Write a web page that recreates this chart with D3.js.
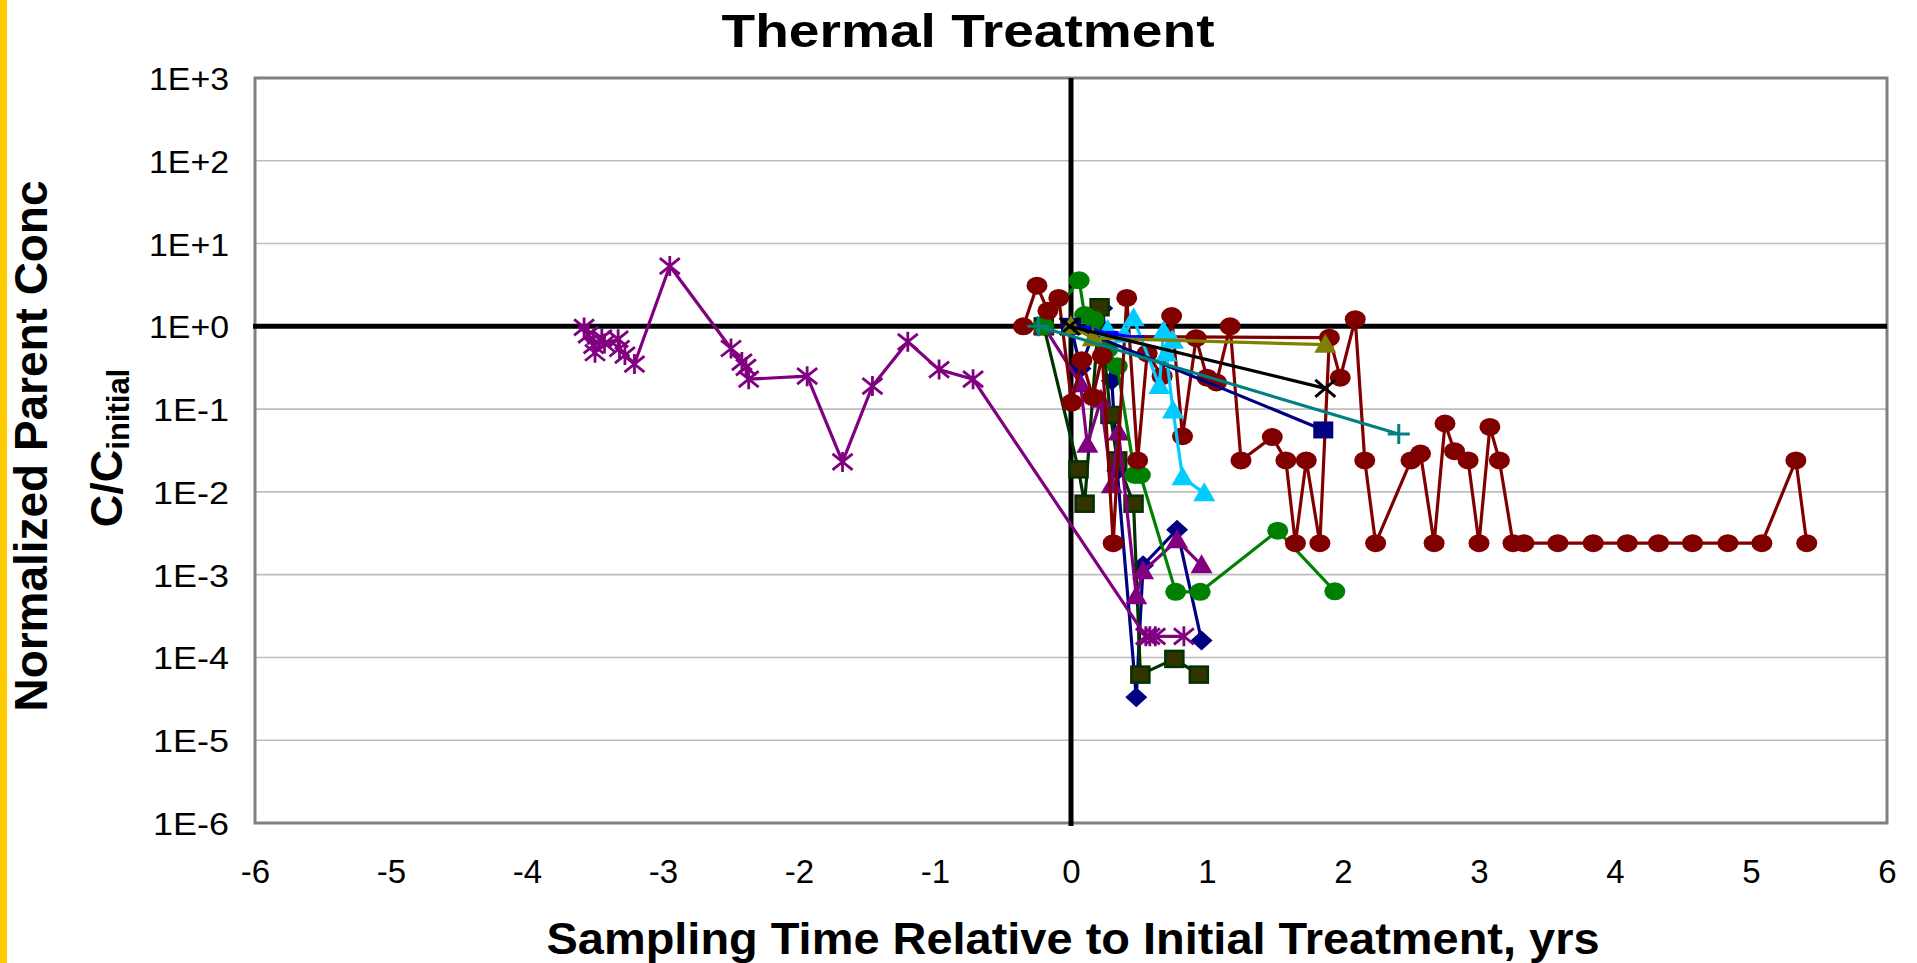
<!DOCTYPE html>
<html><head><meta charset="utf-8">
<script src="https://cdn.jsdelivr.net/npm/d3@7"></script>
<style>html,body{margin:0;padding:0;background:#fff;overflow:hidden}svg{display:block}</style>
</head><body>
<script>
// ---- DATA ----
const yTickValues = [1e-6,1e-5,1e-4,1e-3,1e-2,1e-1,1,10,100,1000];
const yTickLabels = ["1E-6","1E-5","1E-4","1E-3","1E-2","1E-1","1E+0","1E+1","1E+2","1E+3"];
const xTickValues = [-6,-5,-4,-3,-2,-1,0,1,2,3,4,5,6];

const purpleAsterisk = [[-3.58,0.97],[-3.55,0.79],[-3.51,0.59],[-3.50,0.48],[-3.45,0.72],[-3.43,0.62],[-3.33,0.70],[-3.32,0.54],[-3.28,0.45],[-3.21,0.35],[-2.95,5.35],[-2.50,0.54],[-2.42,0.37],[-2.39,0.32],[-2.37,0.23],[-1.94,0.25],[-1.68,0.023],[-1.46,0.19],[-1.20,0.65],[-0.97,0.30],[-0.72,0.23],[0.55,1.8e-4],[0.58,1.8e-4],[0.62,1.8e-4],[0.83,1.8e-4]];
const maroonCircle = [[-0.35,1.0],[-0.25,3.1],[-0.17,1.54],[-0.09,2.2],[0.005,0.12],[0.08,0.39],[0.16,0.14],[0.23,0.44],[0.31,0.0024],[0.41,2.2],[0.49,0.024],[0.56,0.47],[0.67,0.25],[0.74,1.33],[0.82,0.047],[0.92,0.72],[1.0,0.24],[1.07,0.21],[1.17,1.0],[1.25,0.024],[1.48,0.046],[1.58,0.024],[1.65,0.0024],[1.73,0.024],[1.83,0.0024],[1.90,0.73],[1.98,0.24],[2.09,1.22],[2.16,0.024],[2.24,0.0024],[2.50,0.024],[2.57,0.029],[2.67,0.0024],[2.75,0.067],[2.82,0.031],[2.92,0.024],[3.00,0.0024],[3.08,0.061],[3.15,0.024],[3.25,0.0024],[3.33,0.0024],[3.58,0.0024],[3.84,0.0024],[4.09,0.0024],[4.32,0.0024],[4.57,0.0024],[4.83,0.0024],[5.08,0.0024],[5.33,0.024],[5.41,0.0024]];
const maroonFlat = [[0.48,0.75],[1.90,0.73]];
const greenCircle = [[-0.2,1.0],[0.06,3.6],[0.10,1.37],[0.17,1.2],[0.27,0.53],[0.34,0.33],[0.47,0.016],[0.51,0.016],[0.77,6.2e-4],[0.95,6.2e-4],[1.52,0.0034],[1.94,6.3e-4]];
const darkSquare = [[-0.2,1.0],[0.055,0.0187],[0.10,0.0072],[0.21,1.7],[0.29,0.085],[0.34,0.024],[0.46,0.0072],[0.51,6.2e-5],[0.76,9.6e-5],[0.94,6.2e-5]];
const navyDiamond = [[0.0,1.0],[0.07,0.31],[0.23,1.65],[0.30,0.22],[0.34,0.018],[0.48,3.3e-5],[0.53,0.0013],[0.78,0.0035],[0.96,1.6e-4]];
const purpleTriangle = [[-0.2,1.0],[0.07,0.2],[0.12,0.037],[0.22,0.13],[0.30,0.012],[0.35,0.052],[0.48,5.5e-4],[0.53,0.0011],[0.78,0.0026],[0.96,0.0013]];
const cyanTriangle = [[0.27,0.9],[0.39,0.79],[0.46,1.25],[0.65,0.19],[0.68,0.87],[0.75,0.67],[0.70,0.47],[0.75,0.096],[0.82,0.015],[0.98,0.0096]];
const blueDash = [[0.0,1.0],[0.09,0.95],[0.29,0.82],[0.48,0.73]];
const navySquare = [[0.0,1.0],[1.855,0.056]];
const blackCross = [[-0.01,1.0],[1.87,0.178]];
const oliveTriangle = [[0.0,1.0],[0.16,0.72],[1.87,0.6]];
const tealPlus = [[-0.24,1.0],[2.41,0.05]];

// ---- LAYOUT ----
const W = 1917, H = 963;
const L = 255, R = 1887, T = 78, B = 823;
const svg = d3.select("body").append("svg").attr("width", W).attr("height", H);
svg.append("rect").attr("width", W).attr("height", H).attr("fill", "#fff");
svg.append("rect").attr("x", 0).attr("y", 0).attr("width", 7).attr("height", H).attr("fill", "#FFCC00");

const x = d3.scaleLinear().domain([-6, 6]).range([L, R]);
const y = d3.scaleLog().domain([1e-6, 1e3]).range([B, T]);
const FONT = "Liberation Sans, Arial, sans-serif";

// gridlines
svg.append("g").selectAll("line").data(yTickValues.slice(1, -1)).join("line")
  .attr("x1", L).attr("x2", R).attr("y1", d => y(d)).attr("y2", d => y(d))
  .attr("stroke", "#bdbdbd").attr("stroke-width", 1.6);

// y axis labels
const yAxis = d3.axisLeft(y).tickValues(yTickValues)
  .tickFormat((d, i) => yTickLabels[i]).tickSize(0).tickPadding(0);
const gy = svg.append("g").attr("transform", `translate(229,0)`).call(yAxis);
gy.select(".domain").remove();
gy.selectAll("text").attr("font-family", FONT)
  .attr("font-size", 32).attr("fill", "#000").attr("dy", "11.5").attr("text-anchor", "end")
  .attr("textLength", (d, i) => yTickLabels[i].startsWith("1E-") ? 76 : 80)
  .attr("lengthAdjust", "spacingAndGlyphs");

// x axis labels
const xAxis = d3.axisBottom(x).tickValues(xTickValues).tickFormat(d => String(d)).tickSize(0).tickPadding(0);
const gx = svg.append("g").call(xAxis);
gx.select(".domain").remove();
gx.selectAll("text").attr("font-family", FONT)
  .attr("font-size", 33).attr("fill", "#000").attr("y", 883).attr("dy", null);

// plot border
svg.append("rect").attr("x", L).attr("y", T).attr("width", R - L).attr("height", B - T)
  .attr("fill", "none").attr("stroke", "#808080").attr("stroke-width", 3);

// reference lines
svg.append("line").attr("x1", x(0)).attr("x2", x(0)).attr("y1", T).attr("y2", B + 3)
  .attr("stroke", "#000").attr("stroke-width", 5);
svg.append("line").attr("x1", L - 2).attr("x2", R).attr("y1", y(1)).attr("y2", y(1))
  .attr("stroke", "#000").attr("stroke-width", 5);

// ---- SERIES ----
const line = d3.line().x(d => x(d[0])).y(d => y(d[1]));
function marker(g, type, color, fill) {
  g.each(function(d) {
    const s = d3.select(this);
    const cx = x(d[0]), cy = y(d[1]);
    if (type === "circle") {
      s.append("ellipse").attr("cx", cx).attr("cy", cy).attr("rx", 10.5).attr("ry", 9).attr("fill", color);
    } else if (type === "square") {
      s.append("rect").attr("x", cx - 9).attr("y", cy - 8).attr("width", 18).attr("height", 16)
        .attr("fill", fill).attr("stroke", color).attr("stroke-width", 2.5);
    } else if (type === "navysquare") {
      s.append("rect").attr("x", cx - 10).attr("y", cy - 8.5).attr("width", 20).attr("height", 17).attr("fill", color);
    } else if (type === "diamond") {
      s.append("path").attr("d", `M${cx},${cy-10}L${cx+11},${cy}L${cx},${cy+10}L${cx-11},${cy}Z`).attr("fill", color);
    } else if (type === "triangle") {
      s.append("path").attr("d", `M${cx},${cy-11}L${cx+11},${cy+8}L${cx-11},${cy+8}Z`).attr("fill", color);
    } else if (type === "asterisk") {
      s.append("path").attr("d", `M${cx-10},${cy-8}L${cx+10},${cy+8}M${cx-10},${cy+8}L${cx+10},${cy-8}M${cx},${cy-10}L${cx},${cy+10}`)
        .attr("stroke", color).attr("stroke-width", 2.8).attr("fill", "none");
    } else if (type === "cross") {
      s.append("path").attr("d", `M${cx-10},${cy-8.5}L${cx+10},${cy+8.5}M${cx-10},${cy+8.5}L${cx+10},${cy-8.5}`)
        .attr("stroke", color).attr("stroke-width", 3).attr("fill", "none");
    } else if (type === "plus") {
      s.append("path").attr("d", `M${cx-11},${cy}L${cx+11},${cy}M${cx},${cy-10}L${cx},${cy+10}`)
        .attr("stroke", color).attr("stroke-width", 3).attr("fill", "none");
    } else if (type === "dash") {
      s.append("rect").attr("x", cx - 8).attr("y", cy - 2.5).attr("width", 16).attr("height", 5).attr("fill", color);
    }
  });
}
const series = [
  {data: navyDiamond, color: "#000080", type: "diamond"},
  {data: darkSquare, color: "#003300", type: "square", fill: "#333300"},
  {data: purpleTriangle, color: "#800080", type: "triangle"},
  {data: greenCircle, color: "#008000", type: "circle"},
  {data: purpleAsterisk, color: "#800080", type: "asterisk"},
  {data: maroonFlat, color: "#800000", type: null},
  {data: maroonCircle, color: "#800000", type: "circle"},
  {data: cyanTriangle, color: "#00CCFF", type: "triangle"},
  {data: blueDash, color: "#0000FF", type: "dash"},
  {data: navySquare, color: "#000080", type: "navysquare"},
  {data: oliveTriangle, color: "#808000", type: "triangle"},
  {data: blackCross, color: "#000000", type: "cross"},
  {data: tealPlus, color: "#008080", type: "plus"}
];
series.forEach(sr => {
  const g = svg.append("g");
  g.append("path").datum(sr.data).attr("d", line).attr("fill", "none")
    .attr("stroke", sr.color).attr("stroke-width", 3.2).attr("stroke-linejoin", "round");
  if (sr.type) marker(g.selectAll("g.m").data(sr.data).join("g").attr("class", "m"), sr.type, sr.color, sr.fill);
});

// ---- TITLES ----
svg.append("text").attr("x", 968).attr("y", 47).attr("text-anchor", "middle")
  .attr("font-family", FONT).attr("font-weight", "bold")
  .attr("font-size", 47).attr("textLength", 493).attr("lengthAdjust", "spacingAndGlyphs")
  .text("Thermal Treatment");
svg.append("text").attr("x", 1073).attr("y", 954).attr("text-anchor", "middle")
  .attr("font-family", FONT).attr("font-weight", "bold")
  .attr("font-size", 45).attr("textLength", 1053).attr("lengthAdjust", "spacingAndGlyphs")
  .text("Sampling Time Relative to Initial Treatment, yrs");
svg.append("text").attr("transform", "translate(47,446) rotate(-90)").attr("text-anchor", "middle")
  .attr("font-family", FONT).attr("font-weight", "bold")
  .attr("font-size", 46).attr("textLength", 531).attr("lengthAdjust", "spacingAndGlyphs")
  .text("Normalized Parent Conc");
const t2 = svg.append("text").attr("transform", "translate(122,448) rotate(-90)").attr("text-anchor", "middle")
  .attr("font-family", FONT).attr("font-weight", "bold").attr("font-size", 45);
t2.append("tspan").text("C/C");
t2.append("tspan").attr("font-size", 31).attr("dy", 7).text("initial");
</script>
</body></html>
